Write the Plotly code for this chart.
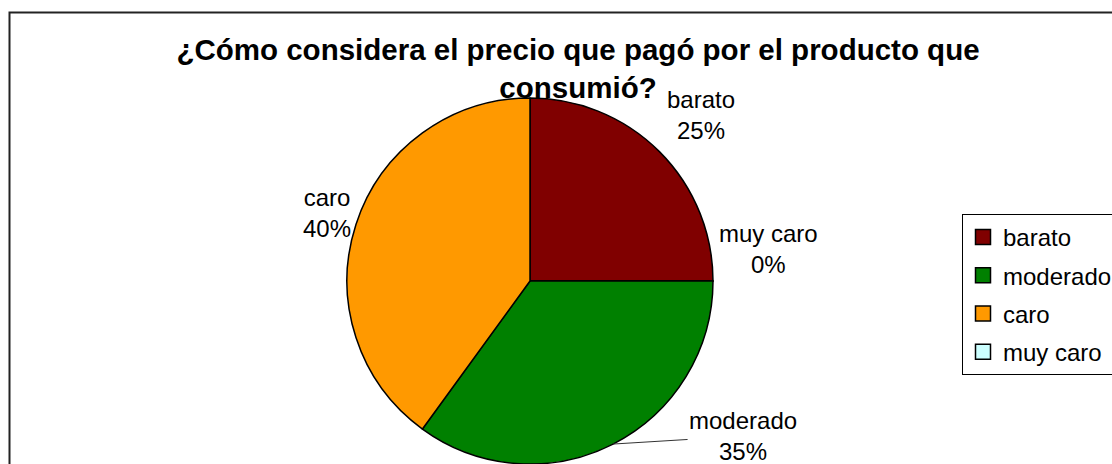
import math
import plotly.graph_objects as go

W, H = 1112, 464

# slice order as drawn clockwise from 12 o'clock
slice_labels = ['barato', 'muy caro', 'moderado', 'caro']
slice_values = [25, 0, 35, 40]
slice_colors = ['#800000', '#CCFFFF', '#008000', '#FF9900']

# legend order
legend_labels = ['barato', 'moderado', 'caro', 'muy caro']
legend_colors = ['#800000', '#008000', '#FF9900', '#CCFFFF']

title_text = '¿Cómo considera el precio que pagó por el producto que<br>consumió?'

fig = go.Figure()

# pie geometry in pixels
cx, top = 530, 98
r = (H - top) / 2
cy = top + r

fig.add_trace(go.Pie(
    labels=slice_labels, values=slice_values, sort=False,
    direction='clockwise', rotation=0,
    marker=dict(colors=slice_colors, line=dict(color='black', width=1.5)),
    textinfo='none', showlegend=False, hoverinfo='label+percent',
    domain=dict(x=[(cx - r) / W, (cx + r) / W], y=[0, 1 - top / H]),
))

# Excel style data labels, anchored at the middle of each slice's outer edge
# (offsets in px: dx right, dy up)
label_offsets = {'barato': (42, 37), 'muy caro': (55, 32), 'caro': (-29, 11)}
total = sum(slice_values)
start = 0
for name, v in zip(slice_labels, slice_values):
    mid = (start + v / 2) / total * 2 * math.pi
    start += v
    px = cx + r * math.sin(mid)
    py = cy - r * math.cos(mid)
    txt = f"{name}<br>{v / total:.0%}"
    common = dict(x=px / W, y=1 - py / H, xref='paper', yref='paper', text=txt,
                  xanchor='center', yanchor='middle',
                  font=dict(family='Liberation Sans, Arial', size=24, color='black'))
    if name == 'moderado':
        # pulled out to the right with a leader line
        fig.add_annotation(**common, showarrow=True, arrowhead=0, arrowwidth=1,
                           arrowcolor='#333333', standoff=0, ax=130, ay=-8)
    else:
        dx, dy = label_offsets[name]
        fig.add_annotation(**common, showarrow=False, xshift=dx, yshift=dy)

# legend entries (square swatches) in the original legend order
for i, (name, color) in enumerate(zip(legend_labels, legend_colors)):
    fig.add_trace(go.Scatter(
        x=[None], y=[None], mode='markers', name=name, legendgroup=str(i),
        marker=dict(symbol='square', size=15, color=color,
                    line=dict(color='black', width=1.5)),
    ))

fig.update_layout(
    width=W, height=H,
    margin=dict(l=0, r=0, t=0, b=0, autoexpand=False),
    paper_bgcolor='white', plot_bgcolor='white',
    font=dict(family='Liberation Sans, Arial', color='black'),
    title=dict(text=title_text, x=578 / W, xanchor='center',
               y=1 - 60 / H, yanchor='top',
               font=dict(size=29.5, family='Liberation Sans, Arial', weight='bold')),
    xaxis=dict(visible=False), yaxis=dict(visible=False),
    legend=dict(x=962 / W, y=1 - 214 / H, xanchor='left', yanchor='top',
                bordercolor='black', borderwidth=1, bgcolor='white',
                font=dict(size=24), traceorder='grouped', tracegroupgap=4),
    shapes=[dict(type='rect', xref='paper', yref='paper',
                 x0=9.5 / W, x1=1.05, y0=-0.05, y1=1 - 12.5 / H,
                 line=dict(color='#222222', width=2), layer='below')],
)

# page body has an 8px default margin; drop it so the figure sits at 0,0
fig.write_html('out.html', config={'displayModeBar': False},
               post_script="document.body.style.margin='0';"
                           "document.body.style.overflow='hidden';")
